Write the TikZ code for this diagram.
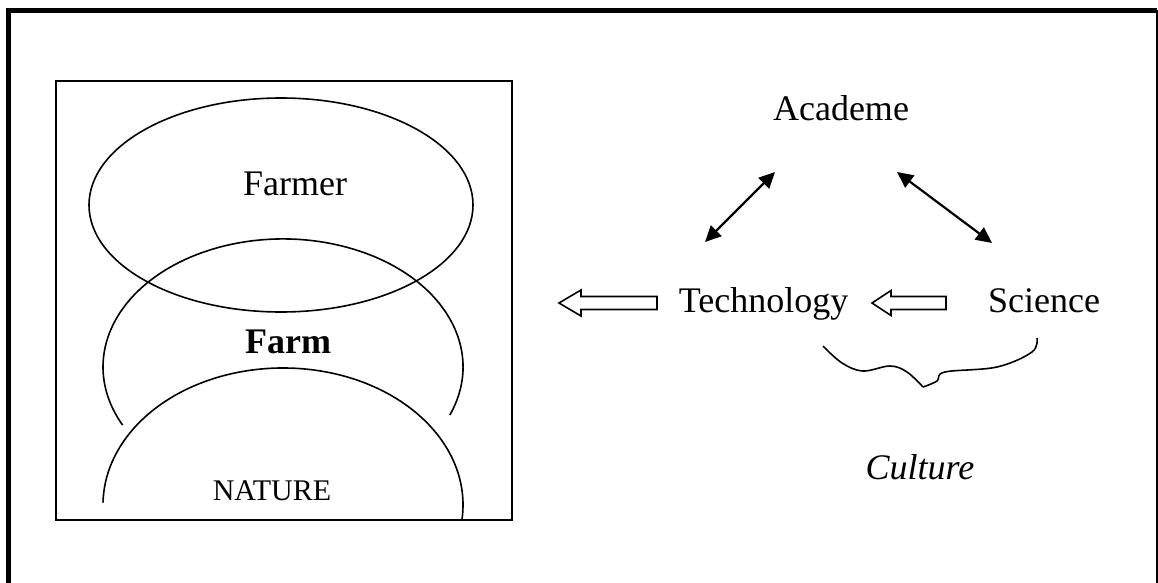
\documentclass[tikz,border=0pt]{standalone}
\usepackage{fontspec}
\setmainfont{Liberation Serif}
\usetikzlibrary{arrows.meta}
\begin{document}
\begin{tikzpicture}[x=1pt,y=1pt,
  lbl/.style={anchor=base,inner sep=0pt,font=\fontsize{36}{40}\selectfont},
  shapeline/.style={line width=1.6pt},
  dblarrow/.style={line width=2.2pt,{Triangle[length=16pt,width=15pt]}-{Triangle[length=16pt,width=15pt]}},
  hollowarrow/.style={draw,line width=1.6pt,line join=miter}
]
\useasboundingbox (0,0) rectangle (1158,-583);
% outer frame
\draw[line width=5pt] (8.5,-583) -- (8.5,-10.5) -- (1157,-10.5);
\draw[line width=1.6pt] (1157,-10.5) -- (1157,-583);
% inner box
\draw[shapeline] (55.7,-81) rectangle (512,-520);
% Farmer ellipse
\draw[shapeline] (281,-205) ellipse [x radius=192, y radius=107];
% Farm arc
\draw[shapeline] (449.9,-414.9) arc[start angle=-22,end angle=207,x radius=180,y radius=128];
% Nature arc
\draw[shapeline] (462,-519.3) arc[start angle=-6,end angle=179,x radius=180,y radius=137];
% labels
\node[lbl] (farmer) at (295,-195) {Farmer};
\node[lbl,font=\bfseries\fontsize{36}{40}\selectfont] (farm) at (288,-353) {Farm};
\node[lbl,font=\fontsize{30}{34}\selectfont] (nature) at (272,-500) {NATURE};
\node[lbl] (academe) at (841,-121) {Academe};
\node[lbl] (tech) at (763.5,-312) {Technology};
\node[lbl] (sci) at (1044,-312) {Science};
\node[lbl,font=\itshape\fontsize{36}{40}\selectfont] (culture) at (920,-479) {Culture};
% double arrows
\coordinate (a1) at (705,-242);
\coordinate (a2) at (775,-172);
\coordinate (b1) at (897,-172);
\coordinate (b2) at (992,-243);
\draw[dblarrow] (a1) -- (a2);
\draw[dblarrow] (b1) -- (b2);
% hollow arrows
\coordinate (h1) at (559,-303);
\coordinate (h2) at (872,-303);
\draw[hollowarrow] (h1) -- ++(22,13) -- ++(0,-6.5) -- ++(76,0) -- ++(0,-13) -- ++(-76,0) -- ++(0,-6.5) -- cycle;
\draw[hollowarrow] (h2) -- ++(19,12.5) -- ++(0,-6) -- ++(55,0) -- ++(0,-13) -- ++(-55,0) -- ++(0,-6) -- cycle;
% brace
\draw[shapeline,line join=round] plot[smooth,tension=0.6] coordinates {(823,-346) (842,-363) (863,-371) (890,-366) (907,-372) (923,-387)};
\draw[shapeline,line join=round] plot[smooth,tension=0.6] coordinates {(923,-387) (937,-381) (945,-372) (997,-367) (1032,-352) (1037,-338)};
\end{tikzpicture}
\end{document}
